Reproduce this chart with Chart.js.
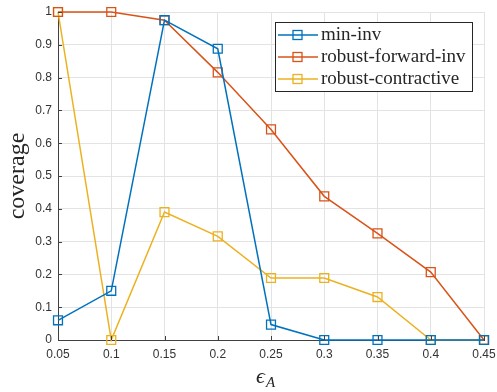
<!DOCTYPE html>
<html>
<head>
<meta charset="utf-8">
<script src="https://cdn.jsdelivr.net/npm/chart.js@4"></script>
<style>
  html, body { margin: 0; padding: 0; background: #fff; }
  #wrap { width: 497px; height: 392px; }
</style>
</head>
<body>
<div id="wrap"><canvas id="myChart1" width="497" height="392"></canvas></div>
<script>
var epsilons = ["0.05","0.1","0.15","0.2","0.25","0.3","0.35","0.4","0.45"];

var mininv = [0.06,0.15,0.975,0.888,0.047,0,0,0,0];

var robustfwd = [1,1,0.975,0.816,0.642,0.438,0.325,0.207,0];

var robustcontr = [1,0,0.39,0.316,0.189,0.189,0.131,0,0];

var seriesNames = ["min-inv","robust-forward-inv","robust-contractive"];
var seriesColors = ["#0072BD","#D95319","#EDB120"];

var axisColor = "#404040";
var gridColor = "#e3e3e3";
var serif = "'Liberation Serif', 'Times New Roman', serif";

function makeSet(i, vals){
  return {
    label: seriesNames[i],
    data: vals,
    borderColor: seriesColors[i],
    backgroundColor: "rgba(255,255,255,0)",
    pointBorderColor: seriesColors[i],
    pointBackgroundColor: "rgba(255,255,255,0)",
    pointStyle: "rect",
    pointRadius: 6.3,
    pointBorderWidth: 1.3,
    borderWidth: 1.5,
    fill: false,
    tension: 0,
    clip: false
  };
}

// inward ticks like matlab
var innerTicks = {
  id: "innerTicks",
  afterDatasetsDraw: function(chart){
    var c = chart.ctx, a = chart.chartArea;
    var xs = chart.scales.x, ys = chart.scales.y;
    c.save();
    c.strokeStyle = axisColor;
    c.lineWidth = 1;
    c.beginPath();
    for(var i=0; i<xs.ticks.length; i++){
      var px = Math.round(xs.getPixelForTick(i)) + 0.5;
      c.moveTo(px, a.bottom);
      c.lineTo(px, a.bottom - 4);
    }
    for(var j=0; j<ys.ticks.length; j++){
      var py = Math.round(ys.getPixelForTick(j)) + 0.5;
      c.moveTo(a.left, py);
      c.lineTo(a.left + 4, py);
    }
    c.stroke();
    c.restore();
  }
};

// boxed legend + axis titles
var extras = {
  id: "extras",
  afterDraw: function(chart){
    var c = chart.ctx;
    c.save();
    // legend box
    var bx = 275.5, by = 22.5, bw = 197, bh = 69;
    c.fillStyle = "#fff";
    c.fillRect(bx, by, bw, bh);
    c.strokeStyle = "#262626";
    c.lineWidth = 1;
    c.strokeRect(bx, by, bw, bh);
    var rows = [35, 57, 79];
    c.font = "19px " + serif;
    c.textBaseline = "middle";
    c.textAlign = "left";
    for(var i=0; i<3; i++){
      var ds = chart.data.datasets[i];
      c.strokeStyle = ds.borderColor;
      c.lineWidth = 1.5;
      c.beginPath();
      c.moveTo(278, rows[i]);
      c.lineTo(318, rows[i]);
      c.stroke();
      c.lineWidth = 1.3;
      c.strokeRect(293, rows[i] - 4.5, 9, 9);
      c.fillStyle = "#262626";
      c.fillText(ds.label, 321, rows[i]);
    }
    // y title
    c.fillStyle = "#262626";
    c.save();
    c.translate(18, 176);
    c.rotate(-Math.PI/2);
    c.textAlign = "center";
    c.font = "24px " + serif;
    c.fillText("coverage", 0, 0);
    c.restore();
    // x title: epsilon_A
    c.textAlign = "left";
    c.font = "italic 22px " + serif;
    c.fillText("\u03f5", 256, 377);
    c.font = "italic 15px " + serif;
    c.fillText("A", 266, 383);
    c.restore();
  }
};

var data = {
  labels: epsilons,
  datasets: [
    makeSet(0, mininv),
    makeSet(1, robustfwd),
    makeSet(2, robustcontr)
  ]
};

var options = {
  responsive: false,
  animation: false,
  layout: { padding: { left: 0, right: 13, top: 12, bottom: 0 } },
  plugins: {
    legend: { display: false },
    title: { display: false },
    tooltip: { enabled: false }
  },
  scales: {
    x: {
      type: "category",
      offset: false,
      grid: { color: gridColor, drawTicks: false, lineWidth: 1 },
      border: { color: axisColor, width: 1 },
      ticks: {
        color: "#333",
        padding: 7,
        maxRotation: 0,
        autoSkip: false,
        font: { family: "'Liberation Sans', Arial, sans-serif", size: 12 }
      },
      afterFit: function(s){
        s.height = 52;
        s.paddingLeft = 0;
        s.paddingRight = 0;
      }
    },
    y: {
      min: 0,
      max: 1,
      grid: { color: gridColor, drawTicks: false, lineWidth: 1 },
      border: { color: axisColor, width: 1 },
      ticks: {
        stepSize: 0.1,
        color: "#333",
        padding: 6,
        font: { family: "'Liberation Sans', Arial, sans-serif", size: 12 },
        callback: function(v){ return String(Math.round(v*10)/10); }
      },
      afterFit: function(s){
        s.width = 58;
        s.paddingTop = 0;
        s.paddingBottom = 0;
      }
    }
  }
};

var ctx = document.getElementById("myChart1").getContext("2d");
var lineChart = new Chart(ctx, {
  type: "line",
  data: data,
  options: options,
  plugins: [innerTicks, extras]
});
</script>
</body>
</html>
